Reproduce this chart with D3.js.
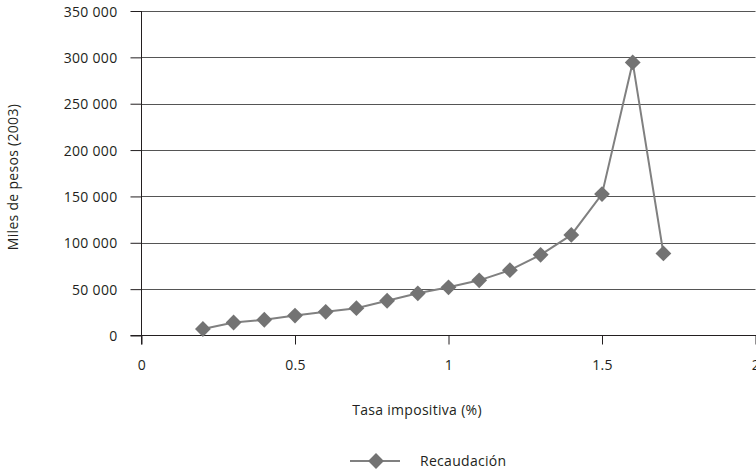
<!DOCTYPE html>
<html>
<head>
<meta charset="utf-8">
<script src="https://cdn.jsdelivr.net/npm/d3@7"></script>
<style>
  html, body { margin: 0; padding: 0; background: #fff; }
  svg { display: block; }
  text { font-family: "Open Sans", sans-serif; fill: #231f20; letter-spacing: 0.3px; }
</style>
</head>
<body>
<svg id="chart" width="756" height="474"></svg>
<script>
// Tax rate (%) and the resulting revenue (thousands of 2003 pesos)
const tasas = [0.2, 0.3, 0.4, 0.5, 0.6, 0.7, 0.8, 0.9, 1.0, 1.1, 1.2, 1.3, 1.4, 1.5, 1.6, 1.7];
const recaudacion = [7000, 14000, 17000, 21500, 25500, 29500, 37500, 45500, 52000, 59500, 70500, 87000, 108500, 152500, 294500, 88500];
const xTicks = [0, 0.5, 1, 1.5, 2];
const yTicks = [0, 50000, 100000, 150000, 200000, 250000, 300000, 350000];
const seriesName = "Recaudación";
const xTitle = "Tasa impositiva (%)";
const yTitle = "Miles de pesos (2003)";

const svg = d3.select("#chart");
const plotL = 141.5, plotR = 755.5, plotT = 11, plotB = 335.5;
const fontSize = 14;

const x = d3.scaleLinear().domain([0, 2]).range([plotL, plotR]);
const y = d3.scaleLinear().domain([0, 350000]).range([plotB, plotT]);

const fmtY = v => d3.format(",")(v).replace(/,/g, " ");
const fmtX = v => String(v);

// horizontal gridlines
svg.append("g")
  .selectAll("line")
  .data(yTicks.filter(d => d > 0))
  .join("line")
  .attr("x1", plotL).attr("x2", plotR)
  .attr("y1", d => Math.round(y(d)) + 0.5).attr("y2", d => Math.round(y(d)) + 0.5)
  .attr("stroke", "#555").attr("stroke-width", 1);

// y axis
const yAxis = svg.append("g")
  .attr("transform", `translate(${plotL},0)`)
  .call(d3.axisLeft(y).tickValues(yTicks).tickFormat(fmtY).tickSize(11).tickPadding(13));
yAxis.select(".domain").attr("stroke", "#231f20").attr("d", `M0,${plotT}V${plotB + 9}`);
yAxis.selectAll(".tick line").attr("stroke", "#231f20");
yAxis.selectAll("text")
  .attr("font-size", fontSize).attr("dy", "0.36em")
  .style("font-family", "'Open Sans', sans-serif").attr("fill", "#231f20");

// x axis
const xAxis = svg.append("g")
  .attr("transform", `translate(0,${plotB})`)
  .call(d3.axisBottom(x).tickValues(xTicks).tickFormat(fmtX).tickSize(9));
xAxis.select(".domain").attr("stroke", "#231f20").attr("d", `M${plotL - 11},0H${plotR + 2}`);
xAxis.selectAll(".tick line").attr("stroke", "#231f20");
xAxis.selectAll("text")
  .attr("font-size", fontSize).attr("y", 30).attr("dy", "0.35em")
  .style("font-family", "'Open Sans', sans-serif").attr("fill", "#231f20");

// axis titles
svg.append("text")
  .attr("x", 417).attr("y", 410).attr("dy", "0.35em")
  .attr("text-anchor", "middle").attr("font-size", fontSize)
  .text(xTitle);
svg.append("text")
  .attr("transform", "translate(13,177) rotate(-90)")
  .attr("dy", "0.35em")
  .attr("text-anchor", "middle").attr("font-size", fontSize)
  .text(yTitle);

// series line
const pts = tasas.map((t, i) => [t, recaudacion[i]]);
svg.append("path")
  .datum(pts)
  .attr("fill", "none")
  .attr("stroke", "#808080")
  .attr("stroke-width", 2)
  .attr("d", d3.line().x(d => x(d[0])).y(d => y(d[1])));

// diamond markers
const diamond = d3.symbol().type(d3.symbolSquare).size(125);
svg.append("g")
  .selectAll("path")
  .data(pts)
  .join("path")
  .attr("d", diamond)
  .attr("transform", d => `translate(${x(d[0])},${y(d[1])}) rotate(45)`)
  .attr("fill", "#737373");

// legend
const lg = svg.append("g").attr("transform", "translate(0,461)");
lg.append("line").attr("x1", 350).attr("x2", 400).attr("y1", 0).attr("y2", 0)
  .attr("stroke", "#808080").attr("stroke-width", 2);
lg.append("path").attr("d", diamond).attr("transform", "translate(376,0) rotate(45)").attr("fill", "#737373");
lg.append("text").attr("x", 420).attr("y", 0).attr("dy", "0.35em").attr("font-size", fontSize).text(seriesName);
</script>
</body>
</html>
